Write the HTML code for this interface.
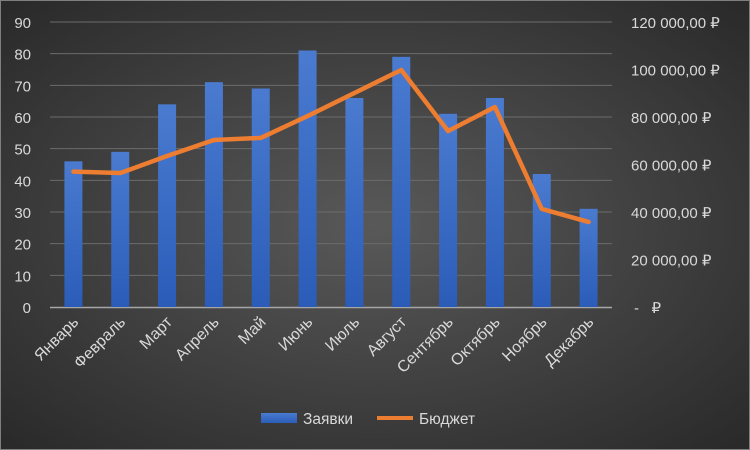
<!DOCTYPE html>
<html><head><meta charset="utf-8"><style>
body{margin:0;background:#000}
svg{display:block;font-family:"Liberation Sans",sans-serif}
</style></head><body>
<svg width="750" height="450" viewBox="0 0 750 450">
<defs>
<radialGradient id="bg" cx="0.5" cy="0.5" r="0.75">
<stop offset="0" stop-color="#595959"/><stop offset="1" stop-color="#262626"/>
</radialGradient>
<linearGradient id="bar" x1="0" y1="0" x2="0" y2="1">
<stop offset="0" stop-color="#4a7bd0"/><stop offset="1" stop-color="#2b5cb8"/>
</linearGradient>
</defs>
<rect x="0.5" y="0.5" width="749" height="449" fill="url(#bg)" stroke="#7f7f7f"/>
<g id="grid"></g><g id="bars"></g><g id="line"></g><g id="labels"></g>
<g>
<rect x="261" y="413" width="36" height="10" fill="url(#bar)"/>
<text x="303" y="424" fill="#d9d9d9" font-size="15.5">Заявки</text>
<line x1="377" y1="418" x2="413" y2="418" stroke="#ed7d31" stroke-width="4"/>
<text x="419" y="424" fill="#d9d9d9" font-size="15.5">Бюджет</text>
</g>
</svg>
<script>
const categories=["Январь","Февраль","Март","Апрель","Май","Июнь","Июль","Август","Сентябрь","Октябрь","Ноябрь","Декабрь"];
const requests=[46,49,64,71,69,81,66,79,61,66,42,31];
const budget=[57000,56400,63600,70300,71200,80400,90100,99800,74100,84200,41300,35800];
const leftTicks=[0,10,20,30,40,50,60,70,80,90];
const rightTicks=["-\u00a0\u00a0\u00a0₽","20 000,00 ₽","40 000,00 ₽","60 000,00 ₽","80 000,00 ₽","100 000,00 ₽","120 000,00 ₽"];
const NS="http://www.w3.org/2000/svg";
const x0=50,x1=612,yb=307,yt=22;
const step=(x1-x0)/categories.length;
const xc=i=>x0+step*(i+0.5);
const yl=v=>yb-(v/90)*(yb-yt);
const yr=v=>yb-(v/120000)*(yb-yt);
function mk(tag,attrs,parent){const e=document.createElementNS(NS,tag);for(const k in attrs)e.setAttribute(k,attrs[k]);parent.appendChild(e);return e;}
const grid=document.getElementById('grid'),bars=document.getElementById('bars'),line=document.getElementById('line'),labels=document.getElementById('labels');
leftTicks.forEach(v=>{
 if(v>0){const g=mk('line',{x1:x0,x2:x1,y1:yl(v),y2:yl(v),stroke:'#6b6b6b','stroke-width':1},grid);
 
 }
 const t=mk('text',{x:31,y:yl(v)+6,'text-anchor':'end',fill:'#d9d9d9','font-size':15},labels);
 t.textContent=v;
 
 
});
rightTicks.forEach((s,i)=>{
 const t=mk('text',{x:i===0?634:631,y:yr(i*20000)+6,fill:'#d9d9d9','font-size':15},labels);
 t.textContent=s;
 
 
});
requests.forEach((v,i)=>{
 const r=mk('rect',{x:xc(i)-9,y:yl(v),width:18,height:yb-yl(v),fill:'url(#bar)'},bars);
 
 
 const t=mk('text',{x:xc(i)+6,y:323,'text-anchor':'end',fill:'#d9d9d9','font-size':16,transform:`rotate(-45 ${xc(i)+6} 323)`},labels);
 t.textContent=categories[i];
 
 
});
const ax=mk('line',{x1:x0,x2:x1,y1:yb+0.5,y2:yb+0.5,stroke:'#a6a6a6','stroke-width':1.5},grid);


const pl=mk('polyline',{points:budget.map((v,i)=>xc(i)+','+yr(v)).join(' '),fill:'none',stroke:'#ed7d31','stroke-width':4.5,'stroke-linejoin':'round','stroke-linecap':'round'},line);


</script>
</body></html>
